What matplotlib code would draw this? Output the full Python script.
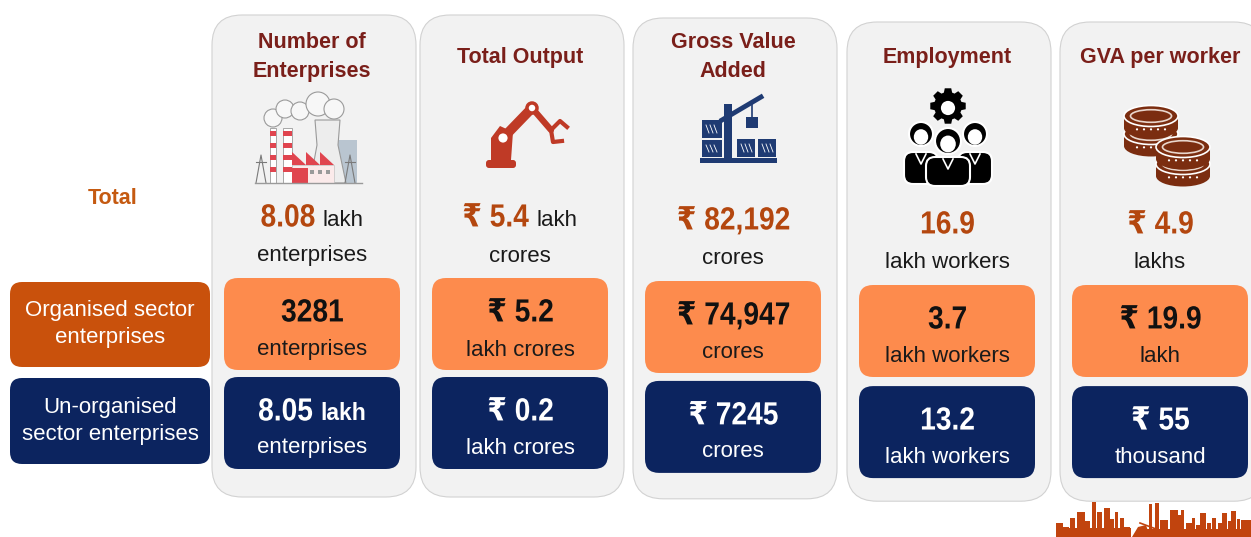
import numpy as np
import matplotlib
matplotlib.use("Agg")
import matplotlib.pyplot as plt
from matplotlib.font_manager import FontProperties
from matplotlib.textpath import TextPath
from matplotlib.transforms import Affine2D
from matplotlib.patches import FancyBboxPatch, Rectangle, Circle, Ellipse, Polygon, PathPatch

plt.rcParams['font.family'] = ['Liberation Sans', 'DejaVu Sans']

# ---- data ----
row_labels = ["Total", "Organised sector\nenterprises", "Un-organised\nsector enterprises"]
metrics = ["Number of\nEnterprises", "Total Output", "Gross Value\nAdded", "Employment", "GVA per worker"]

total_values = ["8.08", "₹ 5.4", "₹ 82,192", "16.9", "₹ 4.9"]
total_inline = ["lakh", "lakh", "", "", ""]
total_units = ["enterprises", "crores", "crores", "lakh workers", "lakhs"]

org_values = ["3281", "₹ 5.2", "₹ 74,947", "3.7", "₹ 19.9"]
org_units = ["enterprises", "lakh crores", "crores", "lakh workers", "lakh"]

unorg_values = ["8.05", "₹ 0.2", "₹ 7245", "13.2", "₹ 55"]
unorg_inline = ["lakh", "", "", "", ""]
unorg_units = ["enterprises", "lakh crores", "crores", "lakh workers", "thousand"]

# ---- style ----
TITLE_C = '#7A1F1A'
VAL_C = '#B4470F'
TOTAL_C = '#C55A11'
ORANGE = '#FD8B4D'
NAVY = '#0C245F'
ORG_LBL = '#C9510C'
PANEL = '#F2F2F2'
RED = '#BF3A26'
BROWN = '#7B2D10'
FAM = ['Liberation Sans', 'DejaVu Sans']
NUM_PX = 32      # em size of the big numbers in pixels
NUM_SX = 0.88    # horizontal squeeze of the big numbers

col_x = [312, 520, 733, 947, 1160]
col_dy = [0, 0, 3, 7, 7]

W, H = 1251, 537
fig = plt.figure(figsize=(W / 100, H / 100), dpi=100)
ax = fig.add_axes([0, 0, 1, 1])
ax.set_xlim(0, W)
ax.set_ylim(H, 0)
ax.axis('off')
renderer = fig.canvas.get_renderer()
bold_prop = FontProperties(family=FAM, weight='bold')


def rbox(x0, y0, w, h, r, fc, ec='none', lw=0, z=1):
    ax.add_patch(FancyBboxPatch((x0, y0), w, h, boxstyle=f"round,pad=0,rounding_size={r}",
                                fc=fc, ec=ec, lw=lw, zorder=z))


def draw_value(cx, cy, value, color, unit=None, unit_size=16, unit_weight='normal', unit_color='#1A1A1A', gap=8):
    tp = TextPath((0, 0), value, size=NUM_PX, prop=bold_prop)
    ext = tp.get_extents()
    w_num = ext.x1 * NUM_SX
    base = cy + 0.716 * NUM_PX / 2
    w_unit = 0
    t = None
    if unit:
        t = ax.text(0, base, unit, fontsize=unit_size, fontweight=unit_weight, color=unit_color,
                    ha='left', va='baseline', zorder=6)
        w_unit = t.get_window_extent(renderer).width + gap
    x0 = cx - (w_num + w_unit) / 2
    tr = Affine2D().scale(NUM_SX, -1).translate(x0, base) + ax.transData
    ax.add_patch(PathPatch(tp, fc=color, ec='none', transform=tr, zorder=6))
    if t is not None:
        t.set_x(x0 + w_num + gap)


# ---- icons ----
def factory(z=3):
    ax.add_patch(Rectangle((335, 140), 22, 43, fc='#B9C5D0', ec='none', zorder=z))
    ax.add_patch(Polygon([(310, 183), (317, 145), (315, 120), (340, 120), (338, 145), (346, 183)],
                         fc='#EDEDED', ec='#9A9A9A', lw=0.8, zorder=z))
    for (x, y, r) in [(273, 118, 9), (285, 109, 9), (300, 111, 9), (318, 104, 12), (334, 109, 10)]:
        ax.add_patch(Circle((x, y), r, fc='#F7F7F7', ec='#9A9A9A', lw=0.8, zorder=z))
    for x0, w in [(270, 6), (283, 9)]:
        ax.add_patch(Rectangle((x0, 128), w, 55, fc='white', ec='#9A9A9A', lw=0.6, zorder=z + 1))
        for k in range(4):
            ax.add_patch(Rectangle((x0, 131 + k * 12), w, 5, fc='#E0454F', ec='none', zorder=z + 1))
    roof = [(292, 165)]
    for k in range(3):
        roof += [(292 + k * 14, 152), (306 + k * 14, 165)]
    ax.add_patch(Polygon(roof, fc='#E0454F', ec='none', zorder=z + 1))
    ax.add_patch(Rectangle((292, 165), 42, 18, fc='#FBEAEA', ec='#C9C9C9', lw=0.6, zorder=z + 1))
    ax.add_patch(Rectangle((292, 168), 16, 15, fc='#E0454F', ec='none', zorder=z + 2))
    for x in [312, 320, 328]:
        ax.add_patch(Rectangle((x - 2, 170), 4, 4, fc='#9A9A9A', ec='none', zorder=z + 2))
    for px in [261, 350]:
        ax.plot([px - 5, px, px + 5], [183, 155, 183], color='#7A7A7A', lw=0.8, zorder=z + 2)
        ax.plot([px - 5, px + 5], [162, 162], color='#7A7A7A', lw=0.8, zorder=z + 2)
    ax.plot([255, 362], [183, 183], color='#9A9A9A', lw=1.0, zorder=z + 2)


def robot(z=3):
    rbox(486, 160, 30, 8, 3, RED, z=z)
    ax.add_patch(Polygon([(491, 160), (491, 138), (500, 126), (513, 132), (511, 160)], fc=RED, zorder=z))
    ax.plot([503, 532], [138, 108], color=RED, lw=7, solid_capstyle='round', zorder=z)
    ax.add_patch(Circle((503, 138), 6, fc='white', ec=RED, lw=2, zorder=z + 1))
    ax.plot([532, 551], [108, 130], color=RED, lw=4.5, solid_capstyle='round', zorder=z)
    ax.add_patch(Circle((532, 108), 5, fc='white', ec=RED, lw=2.5, zorder=z + 1))
    ax.plot([551, 560, 567], [130, 121, 127], color=RED, lw=3, zorder=z)
    ax.plot([551, 553, 562], [130, 142, 141], color=RED, lw=3, zorder=z)


def crane(z=3):
    c = '#1F3B73'
    ax.add_patch(Rectangle((700, 158), 77, 5, fc=c, zorder=z))
    for (x0, y0, w, h) in [(702, 120, 20, 18), (702, 140, 20, 17), (737, 139, 18, 18), (758, 139, 18, 18)]:
        ax.add_patch(Rectangle((x0, y0), w, h, fc=c, ec='none', zorder=z))
        for k in range(3):
            ax.plot([x0 + 4 + k * 4, x0 + 7 + k * 4], [y0 + 5, y0 + h - 5], color='white', lw=0.6, zorder=z + 1)
    ax.add_patch(Rectangle((724, 104), 8, 55, fc=c, zorder=z))
    ax.plot([722, 761], [120, 97], color=c, lw=3.5, zorder=z)
    ax.plot([752, 752], [102, 117], color=c, lw=1.2, zorder=z)
    ax.add_patch(Rectangle((746, 117), 12, 11, fc=c, zorder=z))


def gear(cx, cy, r_out, r_in, n=8):
    pts = []
    for i in range(n):
        a = 2 * np.pi * i / n
        for da, r in [(-0.30, r_in), (-0.18, r_out), (0.18, r_out), (0.30, r_in)]:
            pts.append((cx + r * np.cos(a + da), cy + r * np.sin(a + da)))
    ax.add_patch(Polygon(pts, fc='black', ec='none', zorder=3))


def people(z=3):
    gear(948, 106, 18, 14)
    ax.add_patch(Circle((948, 108), 8.5, fc='white', ec='black', lw=2, zorder=4))
    for (hx, hy, r, bx, by, bw, bh) in [(921, 134, 12, 904, 152, 34, 32), (975, 134, 12, 958, 152, 34, 32),
                                        (948, 141, 13, 926, 157, 44, 29)]:
        ax.add_patch(FancyBboxPatch((bx, by), bw, bh, boxstyle="round,pad=0,rounding_size=9",
                                    fc='black', ec='white', lw=1.5, zorder=z + 2))
        ax.plot([bx + bw / 2 - 5, bx + bw / 2, bx + bw / 2 + 5], [by + 2, by + 12, by + 2],
                color='white', lw=1.2, zorder=z + 3)
        ax.add_patch(Circle((hx, hy), r, fc='black', ec='white', lw=1.5, zorder=z + 2))
        ax.add_patch(Ellipse((hx, hy + 3), r * 1.2, r * 1.3, fc='white', ec='none', zorder=z + 3))


def coin(cx, cy, w=54, h=21, t=12):
    ax.add_patch(Ellipse((cx, cy + t), w, h, fc=BROWN, ec='none', zorder=3))
    ax.add_patch(Rectangle((cx - w / 2, cy), w, t, fc=BROWN, ec='none', zorder=3))
    for k in range(5):
        ax.add_patch(Circle((cx - 14 + k * 7, cy + t / 2 + h * 0.35), 1.1, fc='white', ec='none', zorder=3))
    ax.add_patch(Ellipse((cx, cy), w, h, fc=BROWN, ec='white', lw=1.2, zorder=3))
    ax.add_patch(Ellipse((cx, cy), w * 0.76, h * 0.6, fc=BROWN, ec='#E9D6CC', lw=1.2, zorder=3))


def coins():
    coin(1151, 134)
    coin(1151, 116)
    coin(1183, 164)
    coin(1183, 147)


def skyline():
    c = '#C1440E'
    blds = [(1056, 7, 14), (1063, 6, 10), (1070, 5, 19), (1077, 8, 25), (1085, 5, 16), (1092, 4, 35),
            (1097, 5, 25), (1104, 6, 29), (1110, 4, 18), (1115, 3, 25), (1120, 4, 19), (1124, 6, 10),
            (1149, 3, 33), (1155, 4, 34), (1160, 8, 17), (1170, 8, 27), (1178, 3, 22), (1181, 3, 27),
            (1186, 6, 14), (1192, 3, 19), (1196, 4, 12), (1200, 6, 24), (1207, 4, 14), (1212, 4, 19),
            (1218, 4, 14), (1222, 5, 24), (1228, 3, 16), (1231, 5, 26), (1237, 3, 18), (1241, 10, 17)]
    for x0, w, h in blds:
        ax.add_patch(Rectangle((x0, H - h), w, h, fc=c, ec='none', zorder=2))
    ax.add_patch(Rectangle((1056, H - 9), 75, 9, fc=c, ec='none', zorder=2))
    ax.add_patch(Rectangle((1146, H - 8), 105, 8, fc=c, ec='none', zorder=2))
    ax.add_patch(Polygon([(1132, H), (1138, H - 10), (1146, H - 12), (1150, H)], fc=c, ec='none', zorder=2))
    ax.plot([1140, 1156], [H - 14, H - 8], color=c, lw=1.2, zorder=2)


# ---- left labels ----
ax.text(113, 199, row_labels[0], fontsize=15.5, fontweight='bold', color=TOTAL_C,
        ha='center', va='center', zorder=6)
rbox(10, 282, 200, 85, 12, ORG_LBL)
ax.text(110, 324, row_labels[1], fontsize=16, color='white', ha='center', va='center',
        linespacing=1.4, zorder=6)
rbox(10, 378, 200, 86, 12, NAVY)
ax.text(110, 421, row_labels[2], fontsize=16, color='white', ha='center', va='center',
        linespacing=1.4, zorder=6)

# ---- columns ----
for i, cx in enumerate(col_x):
    dy = col_dy[i]
    rbox(cx - 100, 15 + dy, 204, 482 - dy * 0.4, 30, PANEL, ec='#D2D2D2', lw=0.8, z=1)
    ax.text(cx, 57, metrics[i], fontsize=15.5, fontweight='bold', color=TITLE_C,
            ha='center', va='center', linespacing=1.45, zorder=6)

    draw_value(cx, 215 + dy, total_values[i], VAL_C, unit=total_inline[i] or None)
    ax.text(cx, 256 + dy, total_units[i], fontsize=16, color='#1A1A1A', ha='center', va='center', zorder=6)

    rbox(cx - 88, 278 + dy, 176, 92, 14, ORANGE, z=2)
    draw_value(cx, 310 + dy, org_values[i], '#111111')
    ax.text(cx, 350 + dy, org_units[i], fontsize=16, color='#1A1A1A', ha='center', va='center', zorder=6)

    ndy = dy * 1.3
    rbox(cx - 88, 377 + ndy, 176, 92, 14, NAVY, z=2)
    draw_value(cx, 409 + ndy, unorg_values[i], 'white', unit=unorg_inline[i] or None,
               unit_size=16.5, unit_weight='bold', unit_color='white')
    ax.text(cx, 448 + ndy, unorg_units[i], fontsize=16, color='white', ha='center', va='center', zorder=6)

factory()
robot()
crane()
people()
coins()
skyline()

fig.savefig("out.png", dpi=100)
